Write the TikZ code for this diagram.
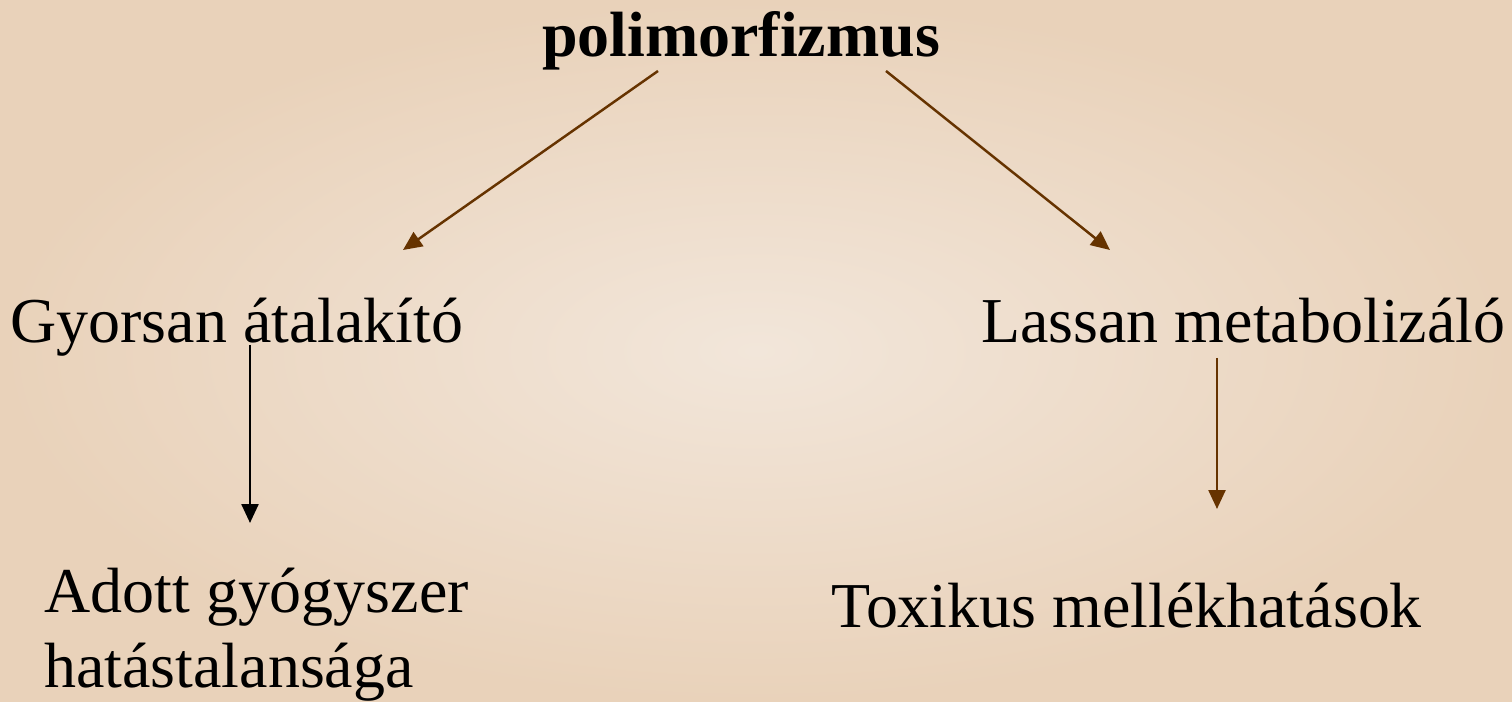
\documentclass[tikz,border=0pt]{standalone}
\usepackage{fontspec}
\setmainfont{Liberation Serif}
\usetikzlibrary{arrows.meta, positioning}
\definecolor{bgedge}{RGB}{233,210,186}
\definecolor{bgcenter}{RGB}{242,230,218}
\definecolor{arrowbrown}{RGB}{102,51,0}
\tikzset{
    term/.style={inner sep=0pt, anchor=base west, font=\fontsize{36.4}{45}\selectfont},
    title/.style={inner sep=0pt, anchor=base, font=\fontsize{36.4}{45}\selectfont\bfseries},
    arrow/.style={-{Triangle[length=0.38cm, width=0.34cm]}, line width=1.4pt, arrowbrown},
    blackarrow/.style={-{Triangle[length=0.38cm, width=0.34cm]}, line width=1.4pt, black}
}
\begin{document}
\begin{tikzpicture}[x=0.02cm, y=-0.02cm]
    % background
    \shade[inner color=bgcenter, outer color=bgedge] (0,0) rectangle (1512,702);
    \useasboundingbox (0,0) rectangle (1512,702);

    % top term
    \node[title] (poly) at (741,57) {polimorfizmus};

    % two kinds of metabolism
    \node[term] (fast) at (10,343) {Gyorsan átalakító};
    \node[term] (slow) at (981,343) {Lassan metabolizáló};

    % consequences
    \node[term, align=left, font=\fontsize{36.4}{42.5}\selectfont] (noeffect) at (44,687) {Adott gyógyszer\\hatástalansága};
    \node[term] (toxic) at (831,627) {Toxikus mellékhatások};

    % arrow ends
    \coordinate (polyL) at (658,71);
    \coordinate (polyR) at (886,71);
    \coordinate (fastIn) at (403,250);
    \coordinate (slowIn) at (1110,250);
    \coordinate (fastOut) at (250,345);
    \coordinate (noeffectIn) at (250,523);
    \coordinate (slowOut) at (1217,358);
    \coordinate (toxicIn) at (1217,509);

    % connections
    \draw[arrow] (polyL) -- (fastIn);
    \draw[arrow] (polyR) -- (slowIn);
    \draw[blackarrow] (fastOut) -- (noeffectIn);
    \draw[arrow] (slowOut) -- (toxicIn);
\end{tikzpicture}
\end{document}
